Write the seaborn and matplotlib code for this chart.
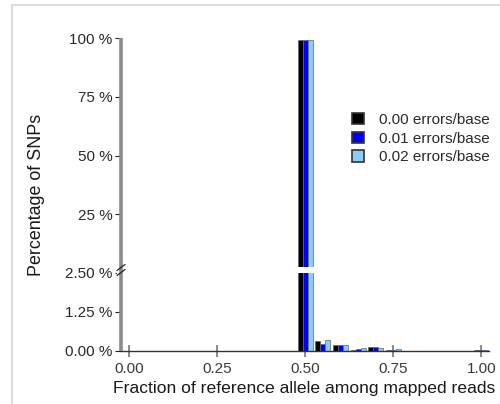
import numpy as np
import pandas as pd
import seaborn as sns
import matplotlib
matplotlib.use("Agg")
import matplotlib.pyplot as plt
from matplotlib.lines import Line2D
from matplotlib.patches import Polygon

# ---- data ----
bins = [0.50, 0.55, 0.60, 0.65, 0.70, 0.75, 1.00]
err_000 = [99.3, 0.31, 0.17, 0.02, 0.12, 0.02, 0.01]
err_001 = [99.3, 0.21, 0.17, 0.04, 0.12, 0.03, 0.02]
err_002 = [99.3, 0.34, 0.17, 0.08, 0.10, 0.04, 0.03]
series_labels = ["0.00 errors/base", "0.01 errors/base", "0.02 errors/base"]
series_colors = ["#000000", "#0000ff", "#87cefa"]
x_ticks = [0.00, 0.25, 0.50, 0.75, 1.00]
x_ticklabels = ["0.00", "0.25", "0.50", "0.75", "1.00"]
top_ticks = [25, 50, 75, 100]
top_ticklabels = ["25 %", "50 %", "75 %", "100 %"]
bot_ticks = [0.0, 1.25, 2.5]
bot_ticklabels = ["0.00 %", "1.25 %", "2.50 %"]

rows = []
for lab, vals in zip(series_labels, [err_000, err_001, err_002]):
    for b, v in zip(bins, vals):
        rows.append({"frac": b, "pct": v, "series": lab})
df = pd.DataFrame(rows)

sns.set_style("white")
plt.rcParams["font.family"] = ["Liberation Sans", "DejaVu Sans"]

W, H = 500, 404
fig = plt.figure(figsize=(5.0, 4.04), dpi=100)

def fx(px):
    return px / W

def fy(py):
    return 1 - py / H

left, right = fx(121), fx(489)
ax_top = fig.add_axes([left, fy(267.2), right - left, fy(38) - fy(267.2)])
ax_bot = fig.add_axes([left, fy(350.7), right - left, fy(272.7) - fy(350.7)])

palette = dict(zip(series_labels, series_colors))
for ax in (ax_top, ax_bot):
    sns.barplot(data=df, x="frac", y="pct", hue="series", hue_order=series_labels,
                palette=palette, native_scale=True, width=0.85, dodge=True,
                edgecolor="#666666", linewidth=0.5, errorbar=None, ax=ax,
                legend=(ax is ax_top), saturation=1)
    ax.set_xlim(-0.024, 1.022)
    ax.set_xlabel("")
    ax.set_ylabel("")
    for s in ax.spines.values():
        s.set_visible(False)
    ax.patch.set_alpha(0)

ax_top.set_ylim(2.5, 100)
ax_top.set_yticks(top_ticks)
ax_top.set_yticklabels(top_ticklabels)
ax_top.set_xticks([])

ax_bot.set_ylim(0, 2.5)
ax_bot.set_yticks(bot_ticks)
ax_bot.set_yticklabels(bot_ticklabels)
ax_bot.set_xticks(x_ticks)
ax_bot.set_xticklabels(x_ticklabels)
ax_bot.spines["bottom"].set_visible(True)
ax_bot.spines["bottom"].set_color("#333333")
ax_bot.spines["bottom"].set_linewidth(1.0)

for ax in (ax_top, ax_bot):
    ax.tick_params(axis="y", which="both", left=True, length=4, width=0.8,
                   color="#222222", labelsize=11, labelcolor="#2a2a2a", pad=2)
ax_bot.tick_params(axis="x", bottom=True, direction="inout", length=8, width=1.2,
                   color="#777777", labelsize=11, labelcolor="#3a3a3a", pad=4)

# legend
handles, labels = ax_top.get_legend_handles_labels()
for h in handles:
    h.set_edgecolor("#333333")
    h.set_linewidth(1.2)
ax_top.get_legend().remove()
fig.legend(handles, labels, loc="upper left", bbox_to_anchor=(fx(346), fy(107)),
           frameon=False, fontsize=11, handlelength=0.75, handleheight=0.75,
           handletextpad=1.0, labelspacing=0.3, borderaxespad=0,
           labelcolor="#2a2a2a")

# continuous gray y-axis line
fig.add_artist(Line2D([fx(121), fx(121)], [fy(38), fy(350.7)], color="#8a8a8a",
                      linewidth=2.6, transform=fig.transFigure, solid_capstyle="butt"))
# axis break marker
bx, by = fx(121), fy(270)
dx, dy = 4 / W, 3 / H
gap = 2.5 / H
fig.add_artist(Polygon([[bx - dx, by - dy - gap], [bx + dx, by + dy - gap],
                        [bx + dx, by + dy + gap], [bx - dx, by - dy + gap]],
                       closed=True, facecolor="white", edgecolor="none",
                       transform=fig.transFigure))
for off in (-gap, gap):
    fig.add_artist(Line2D([bx - dx, bx + dx], [by - dy + off, by + dy + off],
                          color="#222222", linewidth=0.9, transform=fig.transFigure))

# axis labels
fig.text(fx(304), fy(389), "Fraction of reference allele among mapped reads",
         ha="center", va="center", fontsize=12.6, color="#1a1a1a")
fig.text(fx(37), fy(195), "Percentage of SNPs", ha="center", va="center",
         rotation=90, fontsize=12.9, color="#1a1a1a")

# light gray frame
fig.add_artist(Line2D([fx(12), fx(12)], [0, fy(4.5)], color="#dcdcdc", linewidth=1.5,
                      transform=fig.transFigure))
fig.add_artist(Line2D([fx(12), 1], [fy(4.5), fy(4.5)], color="#dcdcdc", linewidth=1.5,
                      transform=fig.transFigure))

fig.savefig("out.png", dpi=100)
